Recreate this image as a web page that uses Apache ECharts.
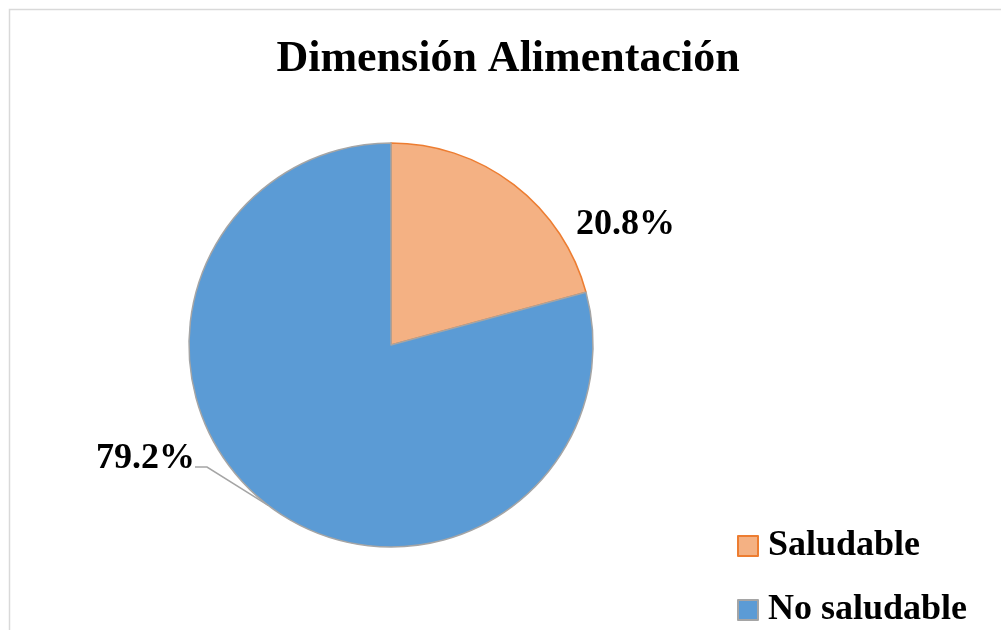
<!DOCTYPE html>
<html>
<head>
<meta charset="utf-8">
<title>Dimensión Alimentación</title>
<script src="https://cdn.jsdelivr.net/npm/echarts@6/dist/echarts.min.js"></script>
<style>
  html, body { margin: 0; padding: 0; background: #ffffff; }
  #chart { width: 1001px; height: 630px; }
</style>
</head>
<body>
<div id="chart"></div>
<script>
// Categories and their shares (%)
const categories = ['Saludable', 'No saludable'];
const shares = [20.8, 79.2];
const fillColors = ['#F4B183', '#5B9BD5'];
const edgeColors = ['#ED7D31', '#A5A5A5'];

const chart = echarts.init(document.getElementById('chart'), null, { renderer: 'canvas' });
const serif = '"Liberation Serif", "Times New Roman", serif';

const pieData = categories.map((name, i) => ({
  name: name,
  value: shares[i],
  itemStyle: { color: fillColors[i], borderColor: edgeColors[i], borderWidth: 1.5 },
  labelLine: { show: i === 1 }
}));

chart.setOption({
  backgroundColor: '#ffffff',
  animation: false,
  title: {
    text: 'Dimensión Alimentación',
    left: 503,
    textAlign: 'center',
    top: 33,
    textStyle: { fontFamily: serif, fontWeight: 'bold', fontSize: 44, color: '#000000' }
  },
  legend: {
    orient: 'vertical',
    left: 737,
    top: 526,
    padding: 0,
    itemWidth: 20,
    itemHeight: 20,
    itemGap: 24,
    icon: 'rect',
    data: categories.map((name, i) => ({
      name: name,
      itemStyle: { color: fillColors[i], borderColor: edgeColors[i], borderWidth: 2 }
    })),
    textStyle: { fontFamily: serif, fontWeight: 'bold', fontSize: 36, color: '#000000', lineHeight: 40, padding: [0, 0, 0, 5] }
  },
  graphic: [{
    type: 'rect',
    shape: { x: 9.5, y: 9.5, width: 1100, height: 700 },
    style: { fill: 'none', stroke: '#D9D9D9', lineWidth: 1.5 },
    silent: true
  }],
  series: [{
    type: 'pie',
    center: [391, 345],
    radius: 202,
    startAngle: 90,
    clockwise: true,
    data: pieData,
    label: {
      show: true,
      position: 'outside',
      // the lower label carries a short blank line so its leader meets it near the baseline
      formatter: p => p.dataIndex === 1
        ? '{v|' + p.value.toFixed(1) + '%}\n{e| }'
        : '{v|' + p.value.toFixed(1) + '%}',
      rich: {
        v: { fontFamily: serif, fontWeight: 'bold', fontSize: 36, color: '#000000', padding: [0, 7, 0, 0] },
        e: { fontSize: 2, lineHeight: 16, height: 16 }
      }
    },
    labelLine: {
      show: true,
      length: 20,
      length2: 12,
      smooth: false,
      lineStyle: { color: '#A5A5A5', width: 1.5 }
    },
    labelLayout: function (params) {
      if (params.dataIndex === 0) {
        return { x: 629, y: 225, align: 'center', verticalAlign: 'middle' };
      }
      return { x: 149, y: 467, align: 'center', verticalAlign: 'middle' };
    },
    emphasis: { disabled: true }
  }]
});
</script>
</body>
</html>
